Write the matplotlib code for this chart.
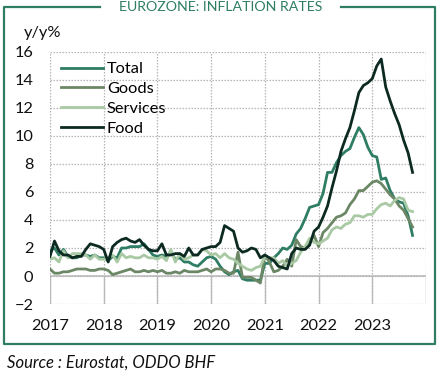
import numpy as np
import matplotlib.pyplot as plt
from matplotlib.lines import Line2D

plt.rcParams['font.family'] = ['Lato', 'DejaVu Sans']

# Monthly y/y rates, Jan 2017 .. Oct 2023
total = [1.8, 2.0, 1.5, 1.9, 1.4, 1.3, 1.3, 1.5, 1.5, 1.4, 1.5, 1.3,
         1.3, 1.1, 1.4, 1.3, 2.0, 2.0, 2.1, 2.1, 2.1, 2.3, 1.9, 1.5,
         1.4, 1.5, 1.4, 1.7, 1.2, 1.3, 1.0, 1.0, 0.8, 0.7, 1.0, 1.3,
         1.4, 1.2, 0.7, 0.3, 0.1, 0.3, 0.4, -0.2, -0.3, -0.3, -0.3, -0.3,
         0.9, 0.9, 1.3, 1.6, 2.0, 1.9, 2.2, 3.0, 3.4, 4.1, 4.9, 5.0,
         5.1, 5.9, 7.4, 7.4, 8.1, 8.6, 8.9, 9.1, 9.9, 10.6, 10.1, 9.2,
         8.6, 8.5, 6.9, 7.0, 6.1, 5.5, 5.3, 5.2, 4.3, 2.9]
goods = [0.5, 0.2, 0.2, 0.3, 0.3, 0.4, 0.5, 0.5, 0.5, 0.4, 0.4, 0.5,
         0.5, 0.4, 0.1, 0.2, 0.3, 0.4, 0.5, 0.3, 0.3, 0.4, 0.3, 0.4,
         0.3, 0.4, 0.2, 0.2, 0.3, 0.2, 0.4, 0.3, 0.3, 0.3, 0.4, 0.5,
         0.3, 0.5, 0.5, 0.4, 0.2, 0.2, 1.7, -0.1, -0.1, -0.1, -0.3, -0.5,
         1.5, 1.0, 0.3, 0.4, 0.7, 1.2, 0.7, 2.6, 2.1, 2.0, 2.4, 2.9,
         2.1, 3.1, 3.4, 3.8, 4.2, 4.3, 4.5, 5.1, 5.5, 6.1, 6.1, 6.4,
         6.7, 6.8, 6.6, 6.2, 5.8, 5.5, 5.0, 4.7, 4.1, 3.5]
services = [1.2, 1.3, 1.0, 1.8, 1.3, 1.6, 1.6, 1.6, 1.5, 1.2, 1.5, 1.2,
            1.2, 1.3, 1.5, 1.0, 1.6, 1.3, 1.4, 1.3, 1.3, 1.5, 1.3, 1.3,
            1.2, 1.4, 1.1, 1.9, 1.0, 1.6, 1.2, 1.3, 1.5, 1.5, 1.9, 1.8,
            1.5, 1.6, 1.3, 1.6, 1.3, 1.2, 0.9, 0.7, 0.5, 0.4, 0.6, 0.7,
            1.4, 1.3, 1.3, 0.9, 1.1, 0.7, 0.9, 1.1, 1.7, 2.1, 2.7, 2.4,
            2.3, 2.5, 2.7, 3.3, 3.5, 3.4, 3.7, 3.8, 4.3, 4.3, 4.2, 4.4,
            4.4, 4.8, 5.1, 5.2, 5.0, 5.4, 5.6, 5.5, 4.7, 4.6]
food = [1.4, 2.5, 1.8, 1.5, 1.5, 1.3, 1.4, 1.4, 1.9, 2.3, 2.2, 2.1,
        1.9, 1.0, 2.1, 2.4, 2.6, 2.7, 2.5, 2.4, 2.6, 2.2, 1.9, 1.8,
        1.8, 2.3, 1.5, 1.5, 1.6, 1.6, 1.4, 2.0, 1.5, 1.5, 1.9, 2.0,
        2.1, 2.1, 2.4, 3.6, 3.4, 3.2, 2.0, 1.7, 1.8, 2.0, 1.9, 1.3,
        1.5, 1.3, 1.1, 0.7, 0.6, 0.5, 1.6, 2.0, 1.9, 1.9, 2.2, 3.2,
        3.5, 4.2, 5.0, 6.3, 7.5, 8.9, 9.8, 10.6, 11.8, 13.1, 13.6, 13.8,
        14.1, 15.0, 15.5, 13.5, 12.5, 11.6, 10.8, 9.7, 8.8, 7.4]
series_names = ['Total', 'Goods', 'Services', 'Food']
years = [2017, 2018, 2019, 2020, 2021, 2022, 2023]

colors = {'Total': '#2e7d64', 'Goods': '#6b8766', 'Services': '#a9c9a4', 'Food': '#0c2a22'}
green = '#2e7d64'

x = 2017 + np.arange(len(total)) / 12.0

fig = plt.figure(figsize=(4.43, 3.82), dpi=100)
ax = fig.add_axes([50/443, 1 - 304/382, 376/443, 252/382])

for name, vals in zip(series_names, [total, goods, services, food]):
    ax.plot(x, vals, color=colors[name], lw=2.0, label=name, solid_joinstyle='round')

ax.set_xlim(2017, 2024)
ax.set_ylim(-2, 16)
ax.set_yticks(np.arange(-2, 17, 2))
ax.set_xticks(years)
ax.set_xticks([2024], minor=True)
ax.grid(True, which='both', color='#b5b5b5', linestyle=(0, (1.2, 1.2)), lw=0.9)
ax.axhline(0, color='#bdbdbd', lw=1.2, zorder=1)
ax.vlines(years + [2024], -2, 0, color='#bdbdbd', lw=1.0, zorder=1)
for s in ax.spines.values():
    s.set_visible(False)
ax.tick_params(axis='both', which='both', length=0, labelsize=11.8, colors='#111111')
ax.tick_params(axis='y', pad=12)
ax.tick_params(axis='x', pad=11)

ax.legend(loc='upper left', bbox_to_anchor=(61/443, 1 - 62/382), bbox_transform=fig.transFigure,
          frameon=False, fontsize=11.8, handlelength=2.55, handletextpad=0.25,
          labelspacing=0.32, borderaxespad=0, borderpad=0)

fig.text(24/443, 1 - 33/382, 'y/y%', fontsize=11.8, ha='left', va='center', color='#111111')

# frame with title break
fl, fr, ft, fb = 4/443, 435/443, 1 - 7/382, 1 - 344/382
fig.add_artist(Line2D([100/443, fl, fl, fr, fr, 341/443], [ft, ft, fb, fb, ft, ft],
                      transform=fig.transFigure, color=green, lw=1.6))
fig.text(221/443, ft, 'EUROZONE: INFLATION RATES', fontsize=10.2, color=green,
         ha='center', va='center')

fig.text(7/443, 1 - 363/382, 'Source : Eurostat, ODDO BHF', fontsize=12, style='italic',
         ha='left', va='center', color='#111111')

fig.savefig('out.png', dpi=100)
